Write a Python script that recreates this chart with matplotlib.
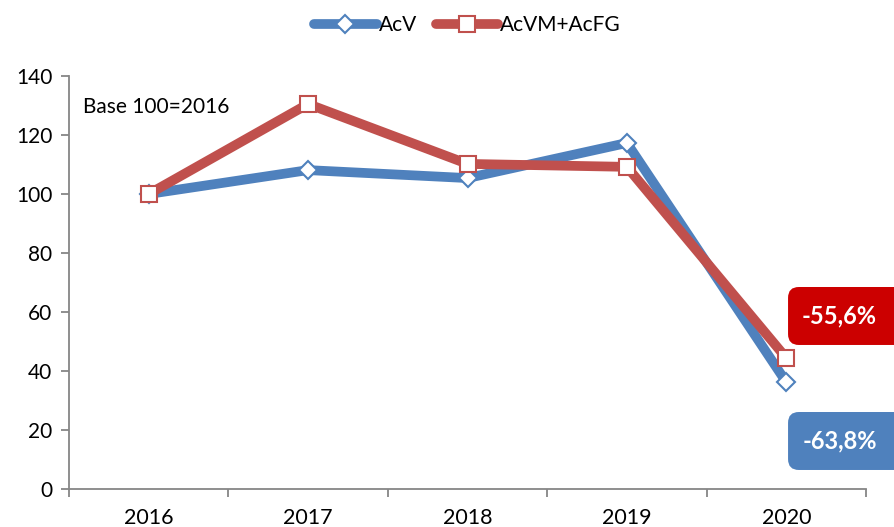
import matplotlib
matplotlib.use("Agg")
import matplotlib.pyplot as plt
from matplotlib.patches import FancyBboxPatch

years = ["2016", "2017", "2018", "2019", "2020"]
acv = [100, 108.1, 105.4, 117.3, 36.2]
acvm_acfg = [100, 130.5, 110.2, 109.2, 44.4]
labels = ["-55,6%", "-63,8%"]

blue = "#4F81BD"
red = "#C0504D"
grey = "#868686"

plt.rcParams["font.family"] = ["Lato", "DejaVu Sans"]

fig = plt.figure(figsize=(8.95, 5.27), dpi=100)
ax = fig.add_axes([0.0771, 0.0721, 0.8905, 0.7837])

x = list(range(len(years)))
ax.plot(x, acv, color=blue, lw=7, marker="D", ms=9, mfc="white", mec=blue,
        mew=1.5, label="AcV", solid_capstyle="round", zorder=3)
ax.plot(x, acvm_acfg, color=red, lw=7, marker="s", ms=12, mfc="white", mec=red,
        mew=1.5, label="AcVM+AcFG", solid_capstyle="round", zorder=4)

ax.set_xlim(-0.5, 4.5)
ax.set_ylim(0, 140)
ax.set_yticks(range(0, 141, 20))
ax.set_xticks(x)
ax.set_xticklabels(years)
ax.set_xticks([i - 0.5 for i in range(6)], minor=True)
ax.tick_params(axis="x", which="major", length=0, pad=14, labelsize=15.5)
ax.tick_params(axis="x", which="minor", length=6, color=grey, width=1.3)
ax.tick_params(axis="y", length=6, color=grey, width=1.3, labelsize=15, pad=6)

for side in ["top", "right"]:
    ax.spines[side].set_visible(False)
for side in ["left", "bottom"]:
    ax.spines[side].set_color(grey)
    ax.spines[side].set_linewidth(1.3)

ax.text(0.017, 0.925, "Base 100=2016", transform=ax.transAxes, fontsize=15,
        va="center", ha="left")

ax.legend(loc="center", bbox_to_anchor=(0.5, 1.1235), ncol=2, frameon=False,
          fontsize=15, handlelength=3.0, handletextpad=0.1, columnspacing=0.9)

# value boxes
for y0, col, txt in [(0.3454, "#CC0000", labels[0]), (0.1082, blue, labels[1])]:
    box = FancyBboxPatch((0.8805, y0), 0.14, 0.110, transform=fig.transFigure,
                         boxstyle="round,pad=0,rounding_size=0.012",
                         fc=col, ec="none", mutation_aspect=1.7)
    fig.add_artist(box)
    fig.text(0.938, y0 + 0.055, txt, color="white", fontsize=17,
             fontweight="bold", ha="center", va="center")

fig.savefig("out.png", dpi=100)
